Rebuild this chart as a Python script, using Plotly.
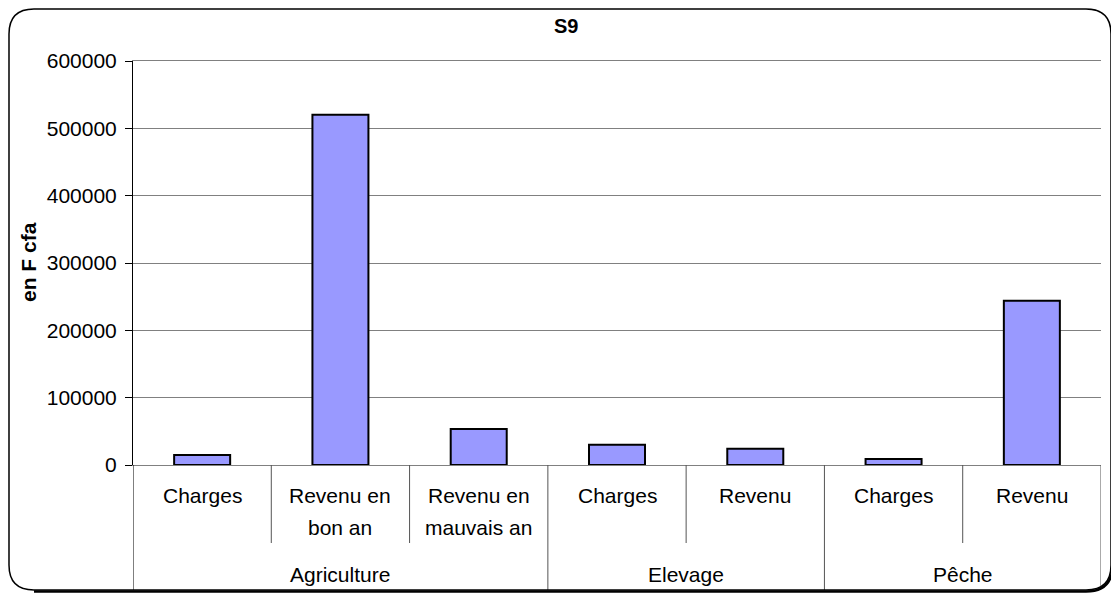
import plotly.graph_objects as go

# ---- data ----
groups = ["Agriculture", "Agriculture", "Agriculture", "Elevage", "Elevage", "Pêche", "Pêche"]
categories = ["Charges", "Revenu en\nbon an", "Revenu en\nmauvais an", "Charges", "Revenu", "Charges", "Revenu"]
values = [15000, 520000, 53500, 30000, 24000, 9000, 244000]
y_ticks = [0, 100000, 200000, 300000, 400000, 500000, 600000]
title_text = "S9"
y_title = "en F cfa"

# ---- layout geometry (page pixels; the page body has an 8px margin) ----
OFF = 8
W, H = 1119 - OFF, 596 - OFF
PLOT_LEFT, PLOT_TOP, PLOT_RIGHT, PLOT_BOTTOM = 133, 61, 1101, 465
L = PLOT_LEFT - OFF
T = PLOT_TOP - OFF
PW = PLOT_RIGHT - PLOT_LEFT
PH = PLOT_BOTTOM - PLOT_TOP
R = W - L - PW
B = H - T - PH
FONT = "Liberation Sans, Arial, sans-serif"


def px_x(px):
    return (px - PLOT_LEFT) / PW


def px_y(py):
    return (PLOT_BOTTOM - py) / PH


xs = list(range(len(values)))

fig = go.Figure()
fig.add_trace(go.Bar(
    x=xs, y=values, width=0.405,
    marker=dict(color="#9999FF", line=dict(color="black", width=2)),
    hoverinfo="y",
))

shapes = []
annotations = []

# dividers between categories / groups
bounds = [i - 0.5 for i in range(len(values) + 1)]
for i, b in enumerate(bounds):
    is_group_edge = (i == 0 or i == len(values) or groups[i] != groups[i - 1])
    shapes.append(dict(type="line", xref="x", yref="paper", x0=b, x1=b,
                       y0=0, y1=px_y(590 if is_group_edge else 543),
                       line=dict(color="#000000" if i == 0 else "#555555", width=1)))

# category labels (one annotation per line)
for i, cat in enumerate(categories):
    for j, line in enumerate(cat.split("\n")):
        annotations.append(dict(xref="x", yref="paper", x=i, y=px_y(495 + 32 * j),
                                text=line, showarrow=False, xanchor="center", yanchor="middle",
                                font=dict(family=FONT, size=21, color="black")))

# group labels
seen = []
for g in groups:
    if g not in seen:
        seen.append(g)
for g in seen:
    idx = [i for i, gg in enumerate(groups) if gg == g]
    annotations.append(dict(xref="x", yref="paper", x=sum(idx) / len(idx), y=px_y(574),
                            text=g, showarrow=False, xanchor="center", yanchor="middle",
                            font=dict(family=FONT, size=21, color="black")))

# title and y title
annotations.append(dict(xref="paper", yref="paper", x=px_x(566), y=px_y(26), text="<b>" + title_text + "</b>",
                        showarrow=False, xanchor="center", yanchor="middle",
                        font=dict(family=FONT, size=20, color="black")))
annotations.append(dict(xref="paper", yref="paper", x=px_x(28), y=px_y(262), text="<b>" + y_title + "</b>",
                        showarrow=False, xanchor="center", yanchor="middle", textangle=-90,
                        font=dict(family=FONT, size=21, color="black")))

# rounded outer border
x0, x1, y0, y1, r = 9, 1111, 9, 590, 25


def rr_path(x0, y0, x1, y1, r):
    P = lambda a, b: f"{px_x(a):.5f},{px_y(b):.5f}"
    return (f"M {P(x0 + r, y0)} L {P(x1 - r, y0)} Q {P(x1, y0)} {P(x1, y0 + r)} "
            f"L {P(x1, y1 - r)} Q {P(x1, y1)} {P(x1 - r, y1)} L {P(x0 + r, y1)} "
            f"Q {P(x0, y1)} {P(x0, y1 - r)} L {P(x0, y0 + r)} Q {P(x0, y0)} {P(x0 + r, y0)} Z")


def shadow_path(x0, y0, x1, y1, r, d):
    P = lambda a, b: f"{px_x(a):.5f},{px_y(b):.5f}"
    return (f"M {P(x1 + d, y0 + r)} L {P(x1 + d, y1 - r)} Q {P(x1 + d, y1 + d)} {P(x1 - r, y1 + d)} "
            f"L {P(x0 + r, y1 + d)}")


shapes.append(dict(type="path", xref="paper", yref="paper", path=rr_path(x0, y0, x1, y1, r),
                   line=dict(color="black", width=1.5), layer="above"))
shapes.append(dict(type="path", xref="paper", yref="paper", path=shadow_path(x0, y0, x1, y1, r, 1.5),
                   line=dict(color="black", width=2.5), layer="above"))

fig.update_layout(
    width=W, height=H,
    margin=dict(l=L, r=R, t=T, b=B),
    paper_bgcolor="white", plot_bgcolor="white",
    showlegend=False,
    bargap=0.6,
    shapes=shapes,
    annotations=annotations,
    xaxis=dict(range=[-0.5, len(values) - 0.5], showticklabels=False, showgrid=False,
               zeroline=False, showline=True, linecolor="#808080", linewidth=1, mirror=True,
               ticks="", fixedrange=True),
    yaxis=dict(range=[0, 600000], tickvals=y_ticks, ticktext=[str(v) for v in y_ticks],
               showgrid=True, gridcolor="#808080", gridwidth=1,
               zeroline=True, zerolinecolor="#404040", zerolinewidth=1,
               showline=True, linecolor="black", linewidth=1,
               ticks="outside", ticklen=7, tickcolor="black", tickwidth=1,
               ticklabelstandoff=4,
               tickfont=dict(family=FONT, size=21, color="black"), fixedrange=True),
)

fig.write_html("out.html")
